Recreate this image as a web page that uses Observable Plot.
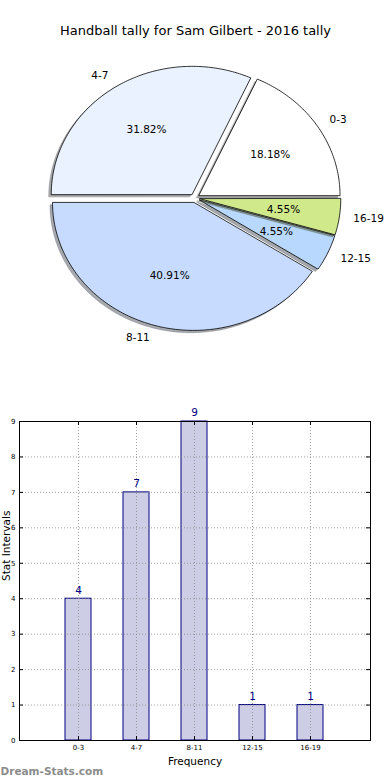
<!DOCTYPE html>
<html><head><meta charset="utf-8">
<script src="https://cdn.jsdelivr.net/npm/d3@7"></script>
<script src="https://cdn.jsdelivr.net/npm/@observablehq/plot@0.6"></script>
<style>
html,body{margin:0;padding:0;background:#fff;}
#wrap{position:relative;width:390px;height:780px;overflow:hidden;font-family:"DejaVu Sans",sans-serif;}
#pie{position:absolute;left:0;top:0;}
#bar{position:absolute;left:0;top:380px;}
svg{overflow:visible;}
</style></head><body><div id="wrap"><div id="pie"></div><div id="bar"></div></div>
<script>
const title = "Handball tally for Sam Gilbert - 2016 tally";
const categories = ["0-3", "4-7", "8-11", "12-15", "16-19"];
const counts = [4, 7, 9, 1, 1];
const sliceColors = ["#ffffff", "#eaf2ff", "#c6dbff", "#b8d8fe", "#cfe98b"];
const yTicks = [0, 1, 2, 3, 4, 5, 6, 7, 8, 9];
const xLabel = "Frequency";
const yLabel = "Stat Intervals";
const watermark = "Dream-Stats.com";

const FONT = "DejaVu Sans";

// ---------- pie (matplotlib-like units: radius 1) ----------
const total = d3.sum(counts);
const explode = 0.035, shadowOff = 0.018, labelDist = 1.1, pctDist = 0.6;
let acc = 0;
const slices = counts.map((v, i) => {
  const t1 = acc / total * 360; acc += v; const t2 = acc / total * 360;
  const mid = (t1 + t2) / 2 * Math.PI / 180;
  const ox = explode * Math.cos(mid), oy = explode * Math.sin(mid);
  const pts = [[ox, oy]];
  const n = Math.max(2, Math.ceil(t2 - t1));
  for (let k = 0; k <= n; k++) {
    const a = (t1 + (t2 - t1) * k / n) * Math.PI / 180;
    pts.push([ox + Math.cos(a), oy + Math.sin(a)]);
  }
  const c = d3.rgb(sliceColors[i]);
  return {
    cat: categories[i], pts, color: sliceColors[i],
    shadow: d3.rgb(c.r * 0.3, c.g * 0.3, c.b * 0.3).formatHex(),
    lx: ox + labelDist * Math.cos(mid), ly: oy + labelDist * Math.sin(mid),
    px: ox + pctDist * Math.cos(mid), py: oy + pctDist * Math.sin(mid),
    pct: (v / total * 100).toFixed(2) + "%"
  };
});

const pieW = 390, pieH = 360, rx = 141, ry = 128, cxp = 194.4, cyp = 197.6;
const pieMarks = [];
for (const s of slices) {
  pieMarks.push(Plot.line(s.pts, {x: d => d[0] - shadowOff, y: d => d[1] - shadowOff, curve: "linear-closed",
    fill: s.shadow, fillOpacity: 0.45, stroke: s.shadow, strokeOpacity: 0.45, strokeWidth: 0.6}));
  pieMarks.push(Plot.line(s.pts, {x: d => d[0], y: d => d[1], curve: "linear-closed",
    fill: s.color, stroke: "#000", strokeWidth: 0.8}));
}
pieMarks.push(Plot.text(slices.filter(d => d.lx < 0), {x: "lx", y: "ly", text: "cat", textAnchor: "end", lineAnchor: "middle", fontSize: 10.5, fill: "#000"}));
pieMarks.push(Plot.text(slices.filter(d => d.lx >= 0), {x: "lx", y: "ly", text: "cat", textAnchor: "start", lineAnchor: "middle", fontSize: 10.5, fill: "#000"}));
pieMarks.push(Plot.text(slices, {x: "px", y: "py", text: "pct", textAnchor: "middle", lineAnchor: "middle", fontSize: 10.5, fill: "#000"}));
pieMarks.push(Plot.text([title], {frameAnchor: "top", dy: 30, text: d => d, lineAnchor: "middle", fontSize: 13, fill: "#000"}));

const pie = Plot.plot({
  width: pieW, height: pieH, margin: 0,
  style: {fontFamily: FONT, background: "transparent", overflow: "visible"},
  x: {domain: [-cxp / rx, (pieW - cxp) / rx], axis: null},
  y: {domain: [-(pieH - cyp) / ry, cyp / ry], axis: null},
  marks: pieMarks
});
document.getElementById("pie").appendChild(pie);

// ---------- bar chart ----------
const rows = categories.map((c, i) => ({cat: c, count: counts[i]}));
const mL = 19, mR = 20, mT = 41, mB = 40, bW = 390, bH = 400;
const innerW = bW - mL - mR, innerH = bH - mT - mB;
const tick = 4;
const grid = {stroke: "#888", strokeOpacity: 1, strokeWidth: 0.8, strokeDasharray: "1,2"};
const bar = Plot.plot({
  width: bW, height: bH, marginLeft: mL, marginRight: mR, marginTop: mT, marginBottom: mB,
  style: {fontFamily: FONT, background: "transparent", overflow: "visible"},
  x: {type: "band", domain: categories, paddingInner: 0.55, paddingOuter: 0.775, label: null},
  y: {domain: [0, 9], label: null},
  marks: [
    Plot.barY(rows, {x: "cat", y: "count", fill: "#cdcde5", stroke: "#000080", strokeWidth: 1}),
    Plot.gridY(yTicks, grid),
    Plot.gridX(categories, grid),
    Plot.tickY(yTicks, {y: d => d, insetRight: innerW - tick, stroke: "#000"}),
    Plot.tickY(yTicks, {y: d => d, insetLeft: innerW - tick, stroke: "#000"}),
    Plot.tickX(categories, {x: d => d, insetBottom: innerH - tick, stroke: "#000"}),
    Plot.tickX(categories, {x: d => d, insetTop: innerH - tick, stroke: "#000"}),
    Plot.frame({stroke: "#000", strokeWidth: 1}),
    Plot.axisY(yTicks, {tickSize: 0, tickPadding: 4, fontSize: 7, fill: "#000", label: null}),
    Plot.axisX(categories, {tickSize: 0, tickPadding: 4.5, fontSize: 7, fill: "#000", label: null}),
    Plot.text(rows, {x: "cat", y: "count", text: d => String(d.count), dy: -8.5, fontSize: 10.5, fill: "#000080", lineAnchor: "middle"}),
    Plot.text([xLabel], {frameAnchor: "bottom", dy: 21, text: d => d, fontSize: 10.5, fill: "#000", lineAnchor: "middle"}),
    Plot.text([yLabel], {frameAnchor: "left", dx: -13, rotate: -90, text: d => d, fontSize: 10.5, fill: "#000", lineAnchor: "middle"}),
    Plot.text([watermark], {frameAnchor: "bottom-left", dx: -19, dy: 31, text: d => d, textAnchor: "start", lineAnchor: "middle", fontSize: 10.5, fontWeight: "bold", fill: "#8c8c8c"})
  ]
});
document.getElementById("bar").appendChild(bar);
</script></body></html>
